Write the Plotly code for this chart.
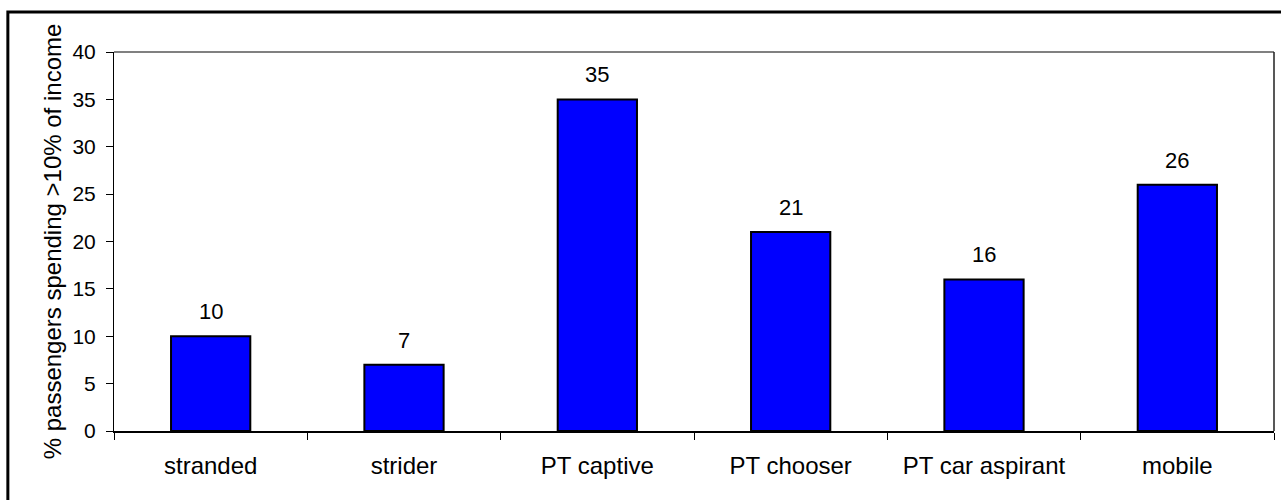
import plotly.graph_objects as go

categories = ["stranded", "strider", "PT captive", "PT chooser", "PT car aspirant", "mobile"]
values = [10, 7, 35, 21, 16, 26]
y_title = "% passengers spending >10% of income"
y_ticks = [0, 5, 10, 15, 20, 25, 30, 35, 40]

FONT = "Liberation Sans, Arial, sans-serif"

fig = go.Figure()
fig.add_trace(go.Bar(
    x=categories,
    y=values,
    marker=dict(color="#0000FF", line=dict(color="#000000", width=2)),
    width=0.41,
    showlegend=False,
    hoverinfo="x+y",
))

# value labels above each bar
for c, v in zip(categories, values):
    fig.add_annotation(
        x=c, y=v, text=str(v), showarrow=False,
        yanchor="bottom", yshift=10,
        font=dict(family=FONT, size=22, color="#000000"),
    )

# plot-area frame: grey top edge, dark right edge
fig.add_shape(type="line", xref="paper", yref="paper", x0=0, x1=1, y0=1, y1=1,
              line=dict(color="#808080", width=2))
fig.add_shape(type="line", xref="paper", yref="paper", x0=1, x1=1, y0=0, y1=1,
              line=dict(color="#202020", width=1.5))

# outer chart border
fig.add_shape(type="rect", xref="paper", yref="paper",
              x0=-0.0915, x1=1.03, y0=1.1055, y1=-0.25,
              line=dict(color="#000000", width=3), fillcolor="rgba(0,0,0,0)")

fig.update_layout(
    width=1281, height=500,
    margin=dict(l=114, r=7, t=52, b=69),
    paper_bgcolor="#FFFFFF",
    plot_bgcolor="#FFFFFF",
    font=dict(family=FONT, size=21, color="#000000"),
    bargap=0.59,
)

fig.update_xaxes(
    type="category",
    showgrid=False,
    showline=True, linecolor="#000000", linewidth=1.5,
    ticks="outside", tickson="boundaries", ticklen=7, tickcolor="#000000", tickwidth=1,
    ticklabelstandoff=12,
    tickfont=dict(family=FONT, size=24, color="#000000"),
    zeroline=False,
)

fig.update_yaxes(
    range=[0, 40],
    tickvals=y_ticks,
    showgrid=False,
    showline=True, linecolor="#000000", linewidth=1,
    ticks="outside", ticklen=7, tickcolor="#000000", tickwidth=1,
    ticklabelstandoff=6,
    tickfont=dict(family=FONT, size=21, color="#000000"),
    title=dict(text=y_title, font=dict(family=FONT, size=24, color="#000000"), standoff=4),
    zeroline=False,
)

fig.write_html("out.html")
